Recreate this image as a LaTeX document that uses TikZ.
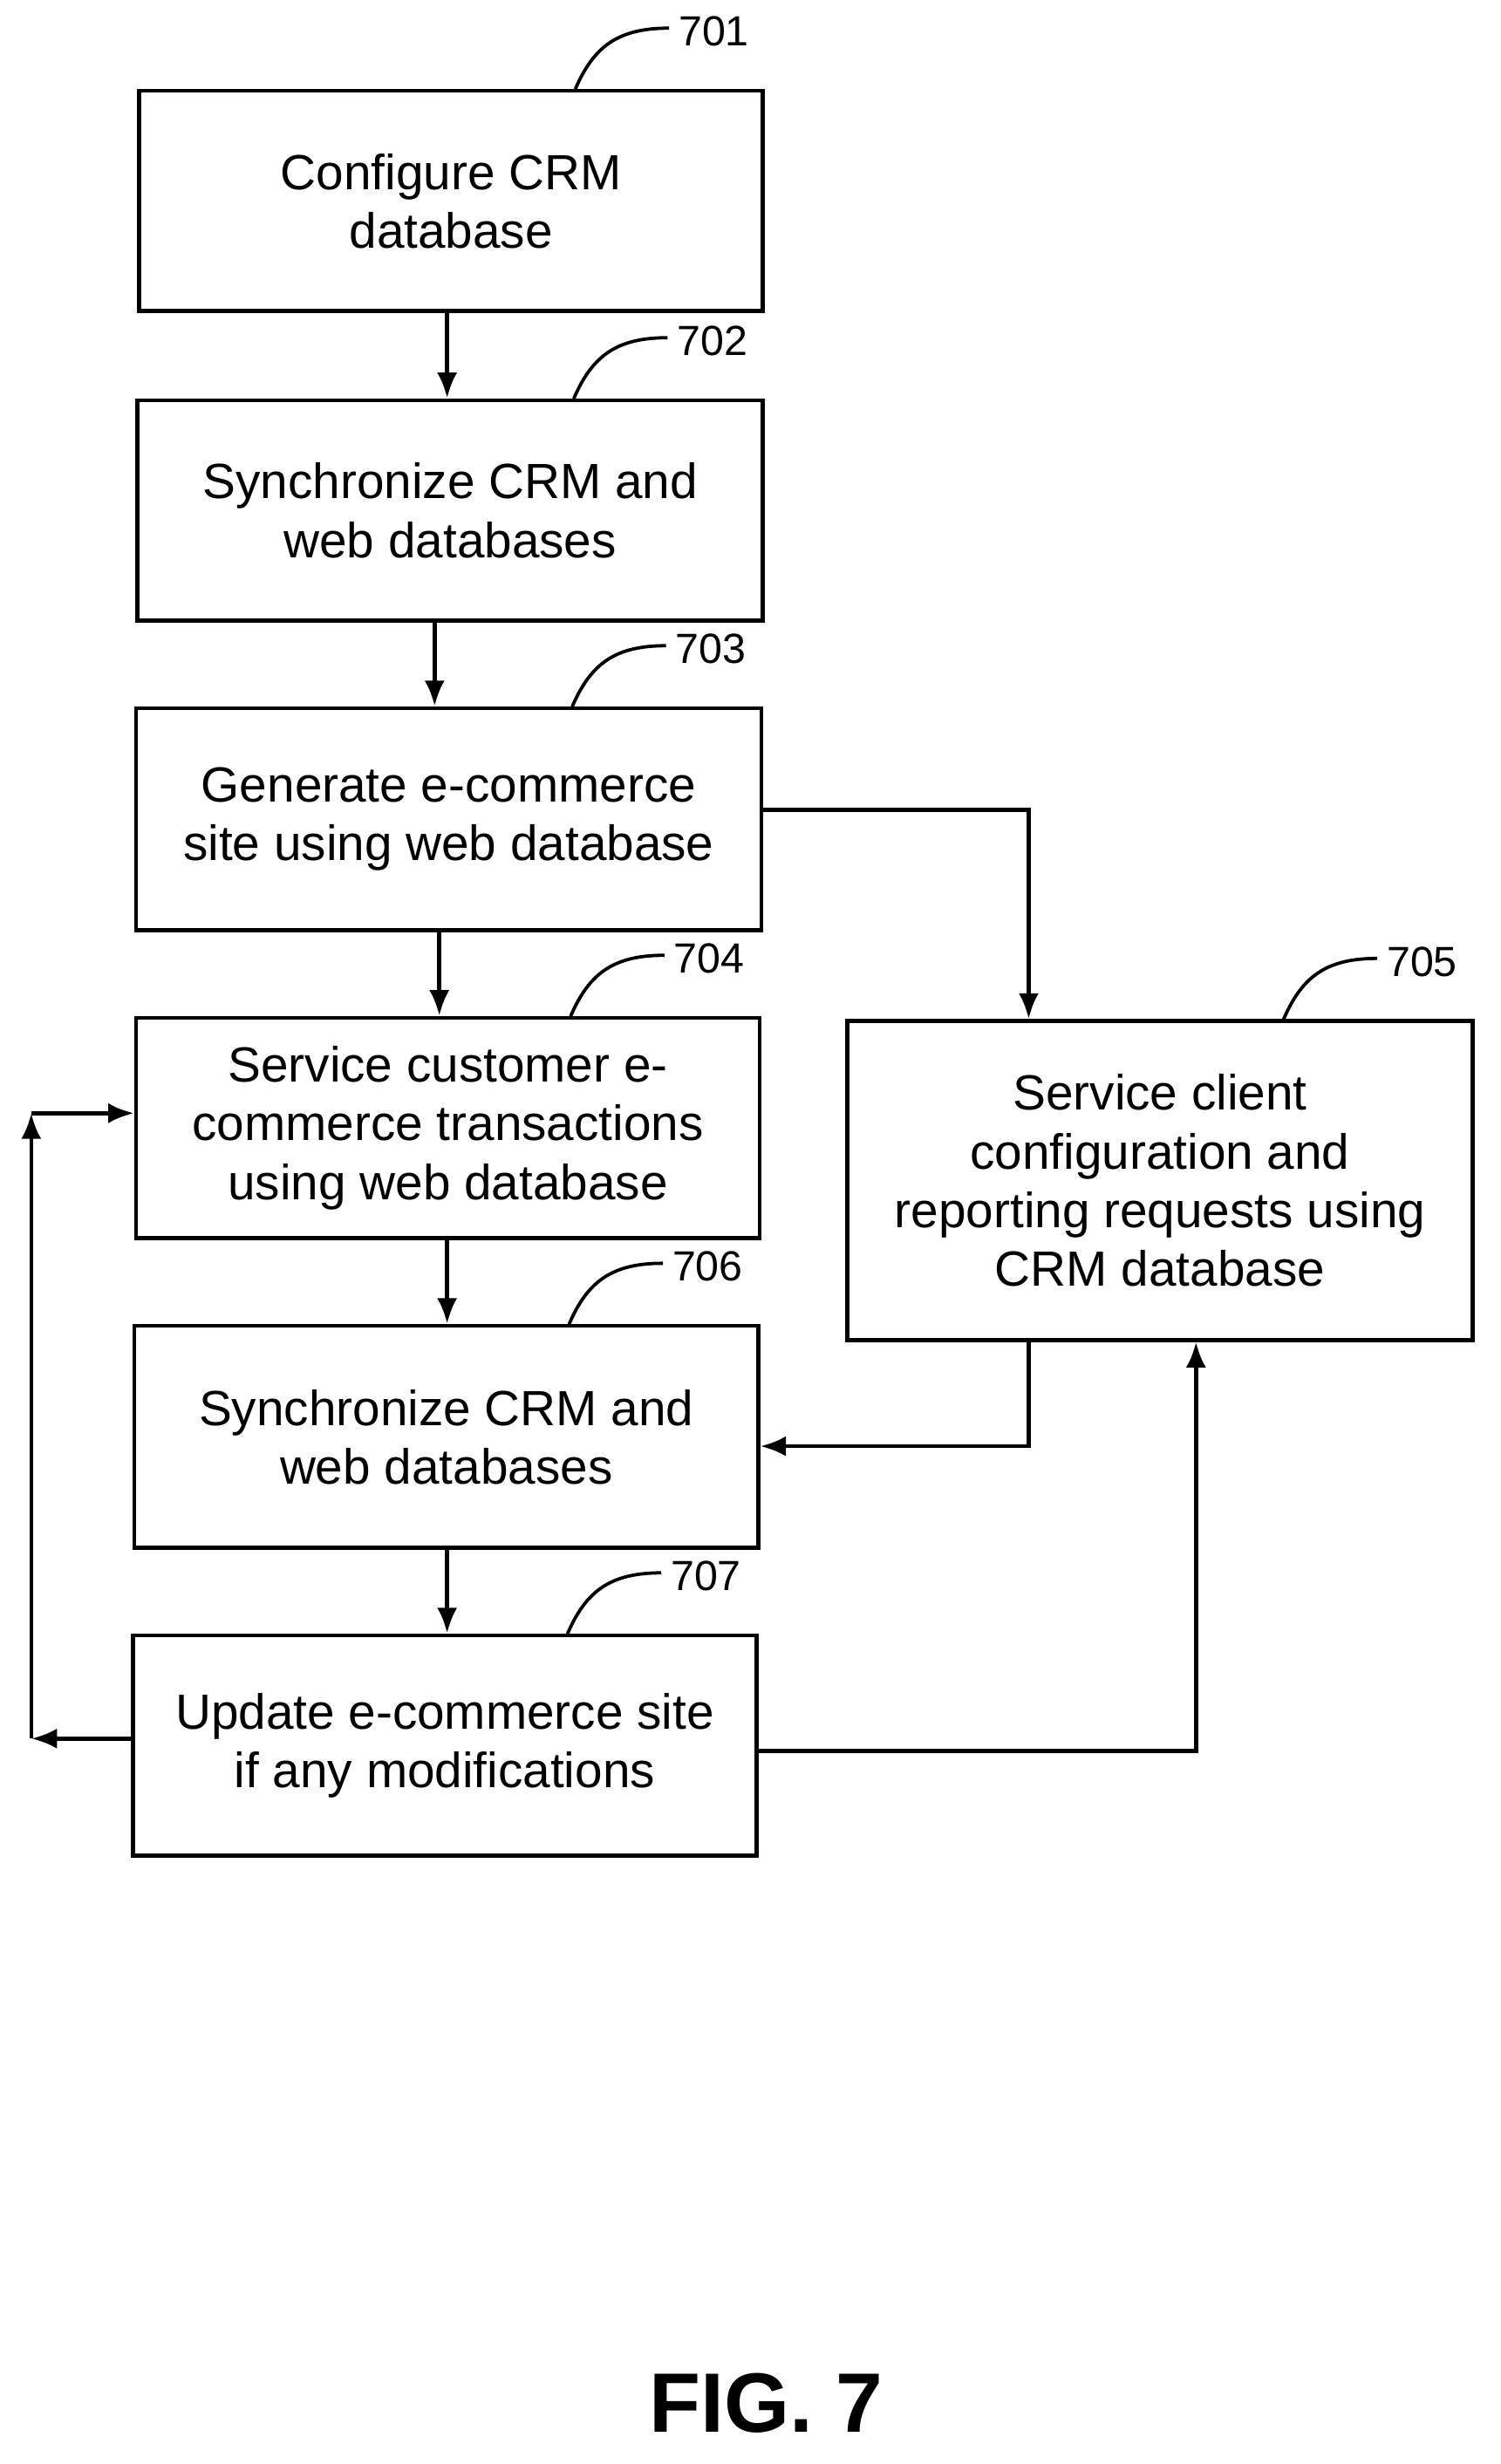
\documentclass[tikz,border=0pt]{standalone}
\usepackage{fontspec}
\setmainfont{Liberation Sans}
\usetikzlibrary{positioning,arrows.meta}
\begin{document}
\begin{tikzpicture}[x=0.03cm,y=-0.03cm,
                stepbox/.style={rectangle, draw, line width=2.2pt, align=center,
                  font=\fontsize{27}{32}\selectfont, inner sep=0pt},
                refnum/.style={anchor=west, font=\fontsize{23}{26}\selectfont},
                flow/.style={-{Latex[length=14pt,width=11pt]}, line width=2.2pt},
                ]
                \useasboundingbox (0,0) rectangle (960,1576);
                \node[stepbox, minimum width=399*0.03cm, minimum height=141*0.03cm] (S1) at (288.5,128.5) {Configure CRM\\database};
                \node[stepbox, minimum width=400*0.03cm, minimum height=141*0.03cm] (S2) at (288,326.5) {Synchronize CRM and\\web databases};
                \node[stepbox, minimum width=400*0.03cm, minimum height=142*0.03cm] (S3) at (287,524) {Generate e-commerce\\site using web database};
                \node[stepbox, minimum width=399*0.03cm, minimum height=141*0.03cm] (S4) at (286.5,721.5) {Service customer e-\\commerce transactions\\using web database};
                \node[stepbox, minimum width=400*0.03cm, minimum height=204*0.03cm] (S5) at (742,755) {Service client\\configuration and\\reporting requests using\\CRM database};
                \node[stepbox, minimum width=399*0.03cm, minimum height=142*0.03cm] (S6) at (285.5,919) {Synchronize CRM and\\web databases};
                \node[stepbox, minimum width=399*0.03cm, minimum height=141*0.03cm] (S7) at (284.5,1116.5) {Update e-commerce site\\if any modifications};

                % reference numerals
                \foreach \name/\x/\y/\num in {S1/368/57/701, S2/367/255/702, S3/366/452/703, S4/365/650/704, S5/821/652/705, S6/364/847/706, S7/363/1045/707}{
                  \draw[line width=1.8pt] (\x,\y) .. controls (\x+12,\y-28) and (\x+28,\y-39) .. (\x+60,\y-39);
                  \node[refnum] (N\num) at (\x+62,\y-37) {\num};
                }

                \coordinate (C3) at (658,518);
                \coordinate (C5) at (658,925);
                \coordinate (C7) at (765,1120);
                \coordinate (L1) at (20,1112);
                \coordinate (L2) at (20,712);

                \draw[flow] (S1.south -| 286,0) -- (S2.north -| 286,0);
                \draw[flow] (S2.south -| 278,0) -- (S3.north -| 278,0);
                \draw[flow] (S3.south -| 281,0) -- (S4.north -| 281,0);
                \draw[flow] (S4.south -| 286,0) -- (S6.north -| 286,0);
                \draw[flow] (S6.south -| 286,0) -- (S7.north -| 286,0);

                \draw[flow] (S3.east |- C3) -- (C3) -- (S5.north -| C3);
                \draw[flow] (S5.south -| C5) -- (C5) -- (S6.east |- C5);
                \draw[flow] (S7.east |- C7) -- (C7) -- (S5.south -| C7);

                \draw[flow] (S7.west |- L1) -- (L1);
                \draw[flow] (L1) -- (L2);
                \draw[flow] (L2) -- (S4.west |- L2);

                \node[font=\bfseries\fontsize{46}{50}\selectfont] (FIG) at (490,1537) {FIG. 7};
            \end{tikzpicture}
\end{document}
